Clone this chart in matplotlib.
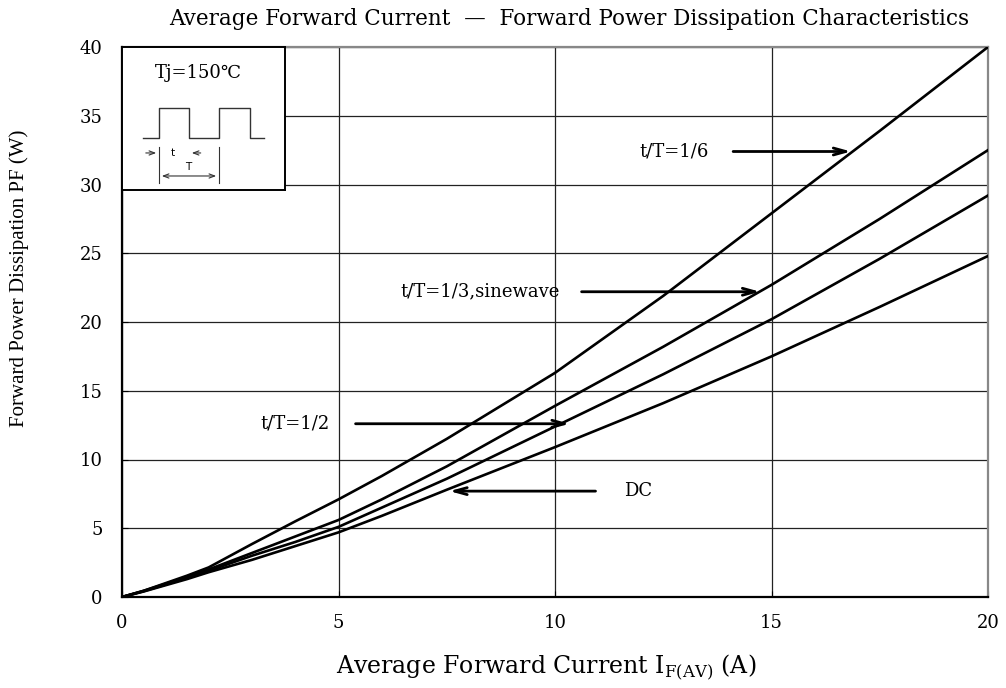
import numpy as np
import matplotlib.pyplot as plt

plt.rcParams['font.family'] = ['DejaVu Serif', 'DejaVu Sans']
plt.rcParams['mathtext.fontset'] = 'custom'
plt.rcParams['mathtext.rm'] = 'DejaVu Serif'

# average forward current (A)
current = [0, 0.5, 1, 1.5, 2, 3, 4, 5, 6, 7.5, 10, 12.5, 15, 17.5, 20]

# forward power dissipation (W)
pf_1_6 = [0, 0.45, 1.0, 1.55, 2.15, 3.85, 5.5, 7.1, 8.8, 11.5, 16.3, 21.9, 27.9, 33.9, 40.0]
pf_1_3 = [0, 0.45, 0.95, 1.45, 2.0, 3.2, 4.4, 5.6, 7.1, 9.5, 13.9, 18.2, 22.7, 27.5, 32.5]
pf_1_2 = [0, 0.42, 0.9, 1.4, 1.9, 3.0, 4.0, 5.1, 6.5, 8.6, 12.4, 16.2, 20.2, 24.6, 29.2]
pf_dc = [0, 0.4, 0.85, 1.3, 1.8, 2.7, 3.7, 4.7, 5.9, 7.8, 10.9, 14.1, 17.5, 21.1, 24.8]

# labels: text, text anchor, arrow start, arrow tip
labels = [
    ("t/T=1/6", (13.56, 32.4), (14.05, 32.4), (16.9, 32.4)),
    ("t/T=1/3,sinewave", (10.12, 22.2), (10.55, 22.2), (14.8, 22.2)),
    ("t/T=1/2", (4.8, 12.6), (5.33, 12.6), (10.4, 12.6)),
]
dc_label = ("DC", (11.6, 7.7), (11.0, 7.7), (7.5, 7.7))

fig = plt.figure(figsize=(10.06, 6.88), dpi=100)
ax = fig.add_axes([122 / 1006, 1 - 597 / 688, 866 / 1006, 550 / 688])

for pf in [pf_1_6, pf_1_3, pf_1_2, pf_dc]:
    ax.plot(current, pf, color='black', lw=1.9, zorder=3)

ax.set_xlim(0, 20)
ax.set_ylim(0, 40)
ax.set_xticks([0, 5, 10, 15, 20])
ax.set_yticks(np.arange(0, 41, 5))
ax.grid(True, color='#222222', lw=0.9, zorder=1)
ax.tick_params(direction='in', length=4, labelsize=13, pad=14, colors='black')
ax.tick_params(axis='x', pad=12)
for side in ['left', 'bottom']:
    ax.spines[side].set_linewidth(1.6)
for side in ['top', 'right']:
    ax.spines[side].set_linewidth(1.6)
    ax.spines[side].set_color('#888888')

ax.set_xlabel('Average Forward Current I$_{\\mathrm{F(AV)}}$ (A)', fontsize=17)
ax.xaxis.set_label_coords(0.49, -0.1)
ax.set_ylabel('Forward Power Dissipation PF (W)', fontsize=15, family='Liberation Serif')
ax.yaxis.set_label_coords(-0.107, 0.58)
fig.text(0.5655, 0.972, 'Average Forward Current  \u2014  Forward Power Dissipation Characteristics',
         ha='center', va='center', fontsize=15.5)

arrow = dict(arrowstyle='->,head_length=0.9,head_width=0.25', color='black', lw=2.0)
for txt, tpos, start, tip in labels:
    ax.text(tpos[0], tpos[1], txt, ha='right', va='center', fontsize=13, zorder=4)
    ax.annotate('', xy=tip, xytext=start, arrowprops=arrow, zorder=4)
ax.text(dc_label[1][0], dc_label[1][1], dc_label[0], ha='left', va='center', fontsize=13, zorder=4)
ax.annotate('', xy=dc_label[3], xytext=dc_label[2], arrowprops=arrow, zorder=4)

# inset with the pulse waveform
ins = ax.inset_axes([0, 1 - 143 / 550, 163 / 866, 143 / 550], zorder=5)
ins.set_xlim(0, 1)
ins.set_ylim(0, 1)
ins.set_xticks([])
ins.set_yticks([])
for side in ins.spines.values():
    side.set_linewidth(1.4)
    side.set_color('black')
ins.text(0.47, 0.82, 'Tj=150\u2103', ha='center', va='center', fontsize=13)
wave_x = [0.129, 0.227, 0.227, 0.411, 0.411, 0.595, 0.595, 0.785, 0.785, 0.871]
wave_y = [0.364, 0.364, 0.573, 0.573, 0.364, 0.364, 0.573, 0.573, 0.364, 0.364]
ins.plot(wave_x, wave_y, color='#333333', lw=1.0)
small = dict(arrowstyle='->,head_length=0.4,head_width=0.15', color='#333333', lw=0.8)
ins.annotate('', xy=(0.227, 0.259), xytext=(0.129, 0.259), arrowprops=small)
ins.annotate('', xy=(0.411, 0.259), xytext=(0.5, 0.259), arrowprops=small)
ins.text(0.313, 0.259, 't', ha='center', va='center', fontsize=7.5, family='DejaVu Sans')
ins.plot([0.227, 0.227], [0.05, 0.30], color='#333333', lw=0.8)
ins.plot([0.595, 0.595], [0.05, 0.30], color='#333333', lw=0.8)
ins.annotate('', xy=(0.595, 0.098), xytext=(0.227, 0.098),
             arrowprops=dict(arrowstyle='<->,head_length=0.4,head_width=0.15', color='#333333', lw=0.8))
ins.text(0.405, 0.16, 'T', ha='center', va='center', fontsize=7.5, family='DejaVu Sans')

fig.savefig('out.png', dpi=100)
